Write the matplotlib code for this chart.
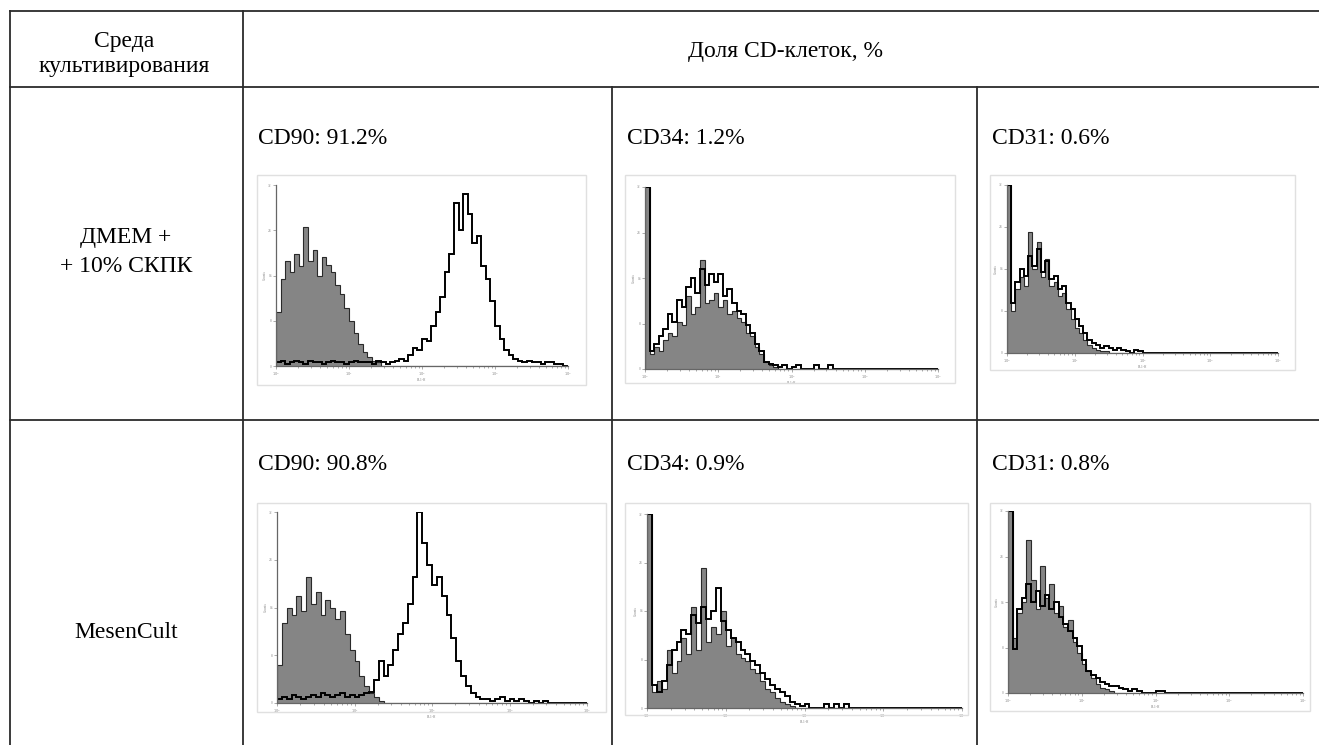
import numpy as np
import matplotlib
matplotlib.use('Agg')
import matplotlib.pyplot as plt
from matplotlib.lines import Line2D
from matplotlib.patches import Rectangle

plt.rcParams['font.family'] = ['Liberation Serif', 'DejaVu Serif']

W, H = 1319, 745
NBINS = 64  # 16 channels per decade, 10^0 .. 10^4

media = ['ДМЕМ +\n+ 10% СКПК', 'MesenCult']
markers = ['CD90', 'CD34', 'CD31']
percents = [[91.2, 1.2, 0.6],
            [90.8, 0.9, 0.8]]

# counts in % of the axis maximum; grey = isotype control, black = stained sample
iso_cd90_dmem = [30, 48, 58, 52, 62, 55, 77, 58, 64, 50, 60, 56, 52, 45, 40, 32,
                 25, 18, 12, 8, 5, 3, 2]
pos_cd90_dmem = [2, 3, 1, 2, 3, 2, 1, 3, 2, 2, 1, 2, 3, 2, 2, 1, 2, 3, 2, 2,
                 2, 1, 3, 2, 1, 2, 3, 4, 3, 6,
                 10, 9, 15, 14, 22, 30, 38, 52,
                 62, 90, 75, 95, 84, 68, 72, 55, 48, 36,
                 22, 15, 9, 6, 4, 3, 2, 3, 2, 2, 1, 2, 2, 1, 1, 0]
iso_cd34_dmem = [100, 8, 12, 10, 16, 20, 18, 26, 24, 40, 30, 34, 60, 36, 38, 42,
                 34, 38, 30, 32, 28, 26, 20, 18, 12, 8, 4, 2, 1]
pos_cd34_dmem = [100, 10, 14, 18, 22, 30, 26, 38, 34, 45, 50, 42, 55, 46, 52,
                 48, 52, 40, 44, 36, 32, 30, 24, 20, 14, 10, 4, 3, 2, 1,
                 2, 0, 1, 2, 0, 0, 0, 2, 0, 0, 2]
iso_cd31_dmem = [100, 25, 38, 45, 40, 72, 50, 66, 45, 56, 40, 42, 34, 36, 26, 20,
                 15, 12, 8, 5, 3, 2, 1, 1]
pos_cd31_dmem = [100, 30, 42, 50, 46, 58, 52, 62, 48, 55, 44, 46, 38, 40, 30, 26,
                 20, 16, 12, 8, 6, 5, 3, 4, 3, 2, 3, 2, 1, 0, 2, 1]

iso_cd90_mc = [20, 42, 50, 46, 56, 48, 66, 52, 58, 46, 54, 50, 44, 48, 36, 28,
               22, 14, 9, 5, 3, 1]
pos_cd90_mc = [2, 3, 2, 4, 3, 2, 3, 4, 3, 5, 4, 3, 4, 5, 3, 4, 3, 4,
               5, 6, 12, 22, 14, 20, 28, 36, 42, 52, 66, 100, 84, 72, 62, 66,
               56, 46, 34, 22, 14, 9, 5, 3,
               2, 2, 1, 2, 3, 1, 2, 1, 2, 1, 0, 1, 0, 1]
iso_cd34_mc = [100, 8, 14, 10, 30, 18, 24, 36, 28, 52, 30, 72, 34, 42, 38, 50,
               32, 36, 28, 26, 24, 20, 18, 14, 10, 8, 5, 3, 2, 1]
pos_cd34_mc = [100, 12, 8, 14, 22, 30, 34, 40, 38, 48, 44, 52, 46, 50, 62, 45,
               40, 36, 34, 30, 28, 24, 22, 18, 15, 12, 10, 8, 6, 3, 2,
               1, 2, 0, 0, 0, 2, 0, 2, 0, 2]
iso_cd31_mc = [100, 30, 44, 50, 84, 62, 46, 70, 52, 60, 44, 48, 36, 40, 28, 22,
               16, 12, 8, 5, 3, 2, 1]
pos_cd31_mc = [100, 24, 46, 52, 60, 50, 56, 48, 54, 46, 50, 42, 38, 34, 30, 26,
               18, 12, 10, 8, 6, 5, 4, 4, 3, 2, 1, 2, 1, 0, 0, 0, 1, 1]

iso_data = [[iso_cd90_dmem, iso_cd34_dmem, iso_cd31_dmem],
            [iso_cd90_mc, iso_cd34_mc, iso_cd31_mc]]
pos_data = [[pos_cd90_dmem, pos_cd34_dmem, pos_cd31_dmem],
            [pos_cd90_mc, pos_cd34_mc, pos_cd31_mc]]

# pixel layout (left, top, right, bottom)
frames = [[(257, 175, 586, 385), (625, 175, 955, 383), (990, 175, 1295, 370)],
          [(257, 503, 606, 712), (625, 503, 968, 715), (990, 503, 1310, 711)]]
plots = [[(276, 185, 568, 366), (645, 187, 938, 369), (1007, 185, 1278, 353)],
         [(277, 512, 587, 703), (647, 514, 962, 708), (1008, 511, 1303, 693)]]
label_x = [258, 627, 992]
label_y = [138, 464]
row_y = [252, 633]


def fx(x):
    return x / W


def fy(y):
    return 1 - y / H


def full(v):
    v = np.asarray(v, dtype=float)
    return np.pad(v, (0, NBINS - len(v)))


edges = 10 ** (np.arange(NBINS + 1) / 16)

fig = plt.figure(figsize=(W / 100, H / 100), dpi=100)

# table rules
lc = '#2b2b2b'
for (x0, y0, x1, y1) in [(10, 11, W, 11), (10, 87, W, 87), (10, 420, W, 420),
                         (10, 11, 10, H), (243, 11, 243, H),
                         (612, 87, 612, H), (977, 87, 977, H)]:
    fig.add_artist(Line2D([fx(x0), fx(x1)], [fy(y0), fy(y1)], color=lc, lw=1.3,
                          transform=fig.transFigure))

fs = 17
fig.text(fx(124), fy(54), 'Среда\nкультивирования', ha='center', va='center',
         fontsize=fs, linespacing=1.25)
fig.text(fx(786), fy(51), 'Доля CD-клеток, %', ha='center', va='center', fontsize=fs)

for r in range(2):
    fig.text(fx(126), fy(row_y[r]), media[r], ha='center', va='center',
             fontsize=fs, linespacing=1.55)
    for c in range(3):
        fig.text(fx(label_x[c]), fy(label_y[r]), f'{markers[c]}: {percents[r][c]}%',
                 ha='left', va='center', fontsize=fs)

        l, t, rr, b = frames[r][c]
        fig.add_artist(Rectangle((fx(l), fy(b)), (rr - l) / W, (b - t) / H,
                                 transform=fig.transFigure, fill=False,
                                 ec='#e0e0e0', lw=1))

        l, t, rr, b = plots[r][c]
        ax = fig.add_axes([fx(l), fy(b), (rr - l) / W, (b - t) / H])
        iso = full(iso_data[r][c])
        pos = full(pos_data[r][c])
        ax.stairs(iso, edges, fill=True, color='#858585')
        ax.stairs(iso, edges, color='#2a2a2a', lw=0.8)
        ax.stairs(pos, edges, color='black', lw=1.4)
        ax.set_xscale('log')
        ax.set_xlim(1, 1e4)
        ax.set_ylim(0, 100)
        for s in ['top', 'right']:
            ax.spines[s].set_visible(False)
        for s in ['left', 'bottom']:
            ax.spines[s].set_color('#666666')
            ax.spines[s].set_linewidth(0.9)
        ax.set_xticks([1, 10, 100, 1000, 10000])
        ax.set_xticklabels([r'$10^0$', r'$10^1$', r'$10^2$', r'$10^3$', r'$10^4$'])
        ax.set_yticks([0, 25, 50, 75, 100])
        ax.set_yticklabels(['0', '8', '16', '24', '32'])
        ax.tick_params(which='both', direction='out', length=2, width=0.5,
                       colors='#888888', labelsize=2.5, pad=1)
        ax.tick_params(which='minor', length=1.2)
        ax.set_ylabel('Counts', fontsize=2.5, color='#888888', labelpad=1)
        ax.set_xlabel('FL1-H', fontsize=2.5, color='#888888', labelpad=0.5)
        ax.patch.set_alpha(0)

fig.savefig('out.png', dpi=100, facecolor='white')
